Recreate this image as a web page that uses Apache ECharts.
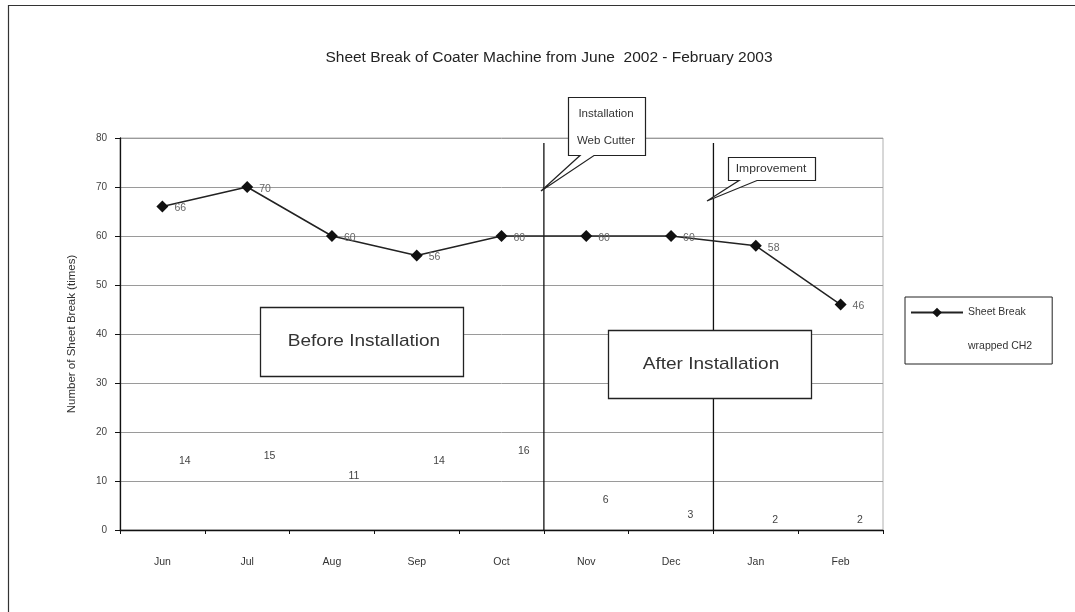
<!DOCTYPE html>
<html>
<head>
<meta charset="utf-8">
<style>
  html, body { margin: 0; padding: 0; background: #fff; }
  #chart { width: 1075px; height: 612px; }
</style>
<script src="https://cdn.jsdelivr.net/npm/echarts@6/dist/echarts.min.js"></script>
</head>
<body>
<div id="chart"></div>
<script>
// Monthly sheet breaks on the coater machine
const months = ['Jun', 'Jul', 'Aug', 'Sep', 'Oct', 'Nov', 'Dec', 'Jan', 'Feb'];
const sheetBreak = [66, 70, 60, 56, 60, 60, 60, 58, 46];
const wrappedCH2 = [14, 15, 11, 14, 16, 6, 3, 2, 2];
const yTicks = [0, 10, 20, 30, 40, 50, 60, 70, 80];
// Category boundaries where the process changed (Oct|Nov and Dec|Jan)
const dividers = [5, 7];
const dividerTop = 79;

const FONT = 'Liberation Sans, Arial, sans-serif';
const chart = echarts.init(document.getElementById('chart'), null, { renderer: 'canvas' });

const dividerSeries = dividers.map((d, i) => ({
  name: 'divider' + i,
  type: 'line',
  xAxisIndex: 1,
  yAxisIndex: 0,
  data: [[d, 0], [d, dividerTop]],
  symbol: 'none',
  silent: true,
  z: 1,
  lineStyle: { color: '#111', width: 1.3 },
  legendHoverLink: false
}));

// Callout shape: box with a pointer tail
function callout(box, tailA, tip, tailB) {
  return [
    [box.x0, box.y0], [box.x1, box.y0], [box.x1, box.y1],
    [tailB, box.y1], tip, [tailA, box.y1], [box.x0, box.y1]
  ];
}

function label(x, y, text, size, sx) {
  return {
    type: 'text', x: x, y: y, z: 51, scaleX: sx || 1,
    style: { text: text, font: size + 'px ' + FONT, fill: '#333', align: 'center', verticalAlign: 'middle' }
  };
}

const option = {
  backgroundColor: '#fff',
  animation: false,
  title: {
    text: 'Sheet Break of Coater Machine from June  2002 - February 2003',
    left: 544,
    textAlign: 'center',
    top: 45,
    textStyle: { fontFamily: FONT, fontSize: 15.5, fontWeight: 'normal', color: '#222' }
  },
  grid: { left: 120, right: 192, top: 138, bottom: 82, show: true, borderColor: '#b0b0b0', borderWidth: 1 },
  legend: {
    data: [{ name: 'Sheet Break' }, { name: 'wrapped CH2' }],
    orient: 'vertical',
    left: 905,
    top: 297,
    width: 120,
    padding: [10, 20, 12, 5],
    itemWidth: 52,
    itemHeight: 12,
    itemGap: 23,
    borderColor: '#222',
    borderWidth: 1,
    textStyle: { fontFamily: FONT, fontSize: 10.5, color: '#333' }
  },
  xAxis: [{
    type: 'category',
    data: months,
    axisLine: { lineStyle: { color: '#111', width: 1.3 } },
    axisTick: { show: true, length: 4, lineStyle: { color: '#111' } },
    axisLabel: { fontFamily: FONT, fontSize: 10.5, color: '#333', margin: 27 },
    splitLine: { show: false }
  }, {
    type: 'value',
    min: 0,
    max: months.length,
    show: false
  }],
  yAxis: {
    type: 'value',
    min: 0,
    max: 80,
    interval: 10,
    name: 'Number of Sheet Break (times)',
    nameLocation: 'middle',
    nameGap: 42,
    nameTextStyle: { fontFamily: FONT, fontSize: 11.5, color: '#333' },
    axisLine: { show: true, lineStyle: { color: '#111', width: 1.3 } },
    axisTick: { show: true, length: 5, lineStyle: { color: '#111' } },
    axisLabel: {
      fontFamily: FONT, fontSize: 10, color: '#444', margin: 13,
      formatter: v => (yTicks.indexOf(v) >= 0 ? String(v) : '')
    },
    splitLine: { show: true, lineStyle: { color: '#9a9a9a', width: 1 } }
  },
  series: [
    ...dividerSeries,
    {
      name: 'Sheet Break',
      type: 'line',
      data: sheetBreak,
      symbol: 'diamond',
      symbolSize: 12,
      z: 3,
      itemStyle: { color: '#111' },
      lineStyle: { color: '#222', width: 1.5 },
      label: {
        show: true, position: 'right', distance: 6, offset: [0, 2],
        fontFamily: FONT, fontSize: 10.5, color: '#666'
      }
    },
    {
      name: 'wrapped CH2',
      type: 'line',
      data: wrappedCH2,
      symbol: 'circle',
      symbolSize: 1,
      z: 2,
      itemStyle: { color: 'rgba(255,255,255,0)' },
      lineStyle: { color: 'rgba(255,255,255,0)', width: 1 },
      label: {
        show: true, position: 'right', distance: 16,
        fontFamily: FONT, fontSize: 10.5, color: '#444'
      }
    }
  ],
  graphic: [
    // outer frame
    { type: 'rect', shape: { x: 8.5, y: 5.5, width: 1200, height: 800 },
      style: { fill: 'none', stroke: '#333', lineWidth: 1.2 }, silent: true, z: 0 },
    // period boxes
    { type: 'rect', shape: { x: 260.5, y: 307.5, width: 203, height: 69 },
      style: { fill: '#fff', stroke: '#222', lineWidth: 1.3 }, z: 50 },
    label(364, 341, 'Before Installation', 17, 1.12),
    { type: 'rect', shape: { x: 608.5, y: 330.5, width: 203, height: 68 },
      style: { fill: '#fff', stroke: '#222', lineWidth: 1.3 }, z: 50 },
    label(711, 364, 'After Installation', 17, 1.12),
    // callouts
    { type: 'polygon', z: 50,
      shape: { points: callout({ x0: 568.5, y0: 97.5, x1: 645.5, y1: 155.5 }, 580, [541, 191], 594) },
      style: { fill: '#fff', stroke: '#222', lineWidth: 1.2 } },
    label(606, 114, 'Installation', 10.5, 1.1),
    label(606, 141, 'Web Cutter', 10.5, 1.1),
    { type: 'polygon', z: 50,
      shape: { points: callout({ x0: 728.5, y0: 157.5, x1: 815.5, y1: 180.5 }, 739, [707, 201], 757) },
      style: { fill: '#fff', stroke: '#222', lineWidth: 1.2 } },
    label(771, 169, 'Improvement', 10.5, 1.15)
  ]
};

chart.setOption(option);
</script>
</body>
</html>
